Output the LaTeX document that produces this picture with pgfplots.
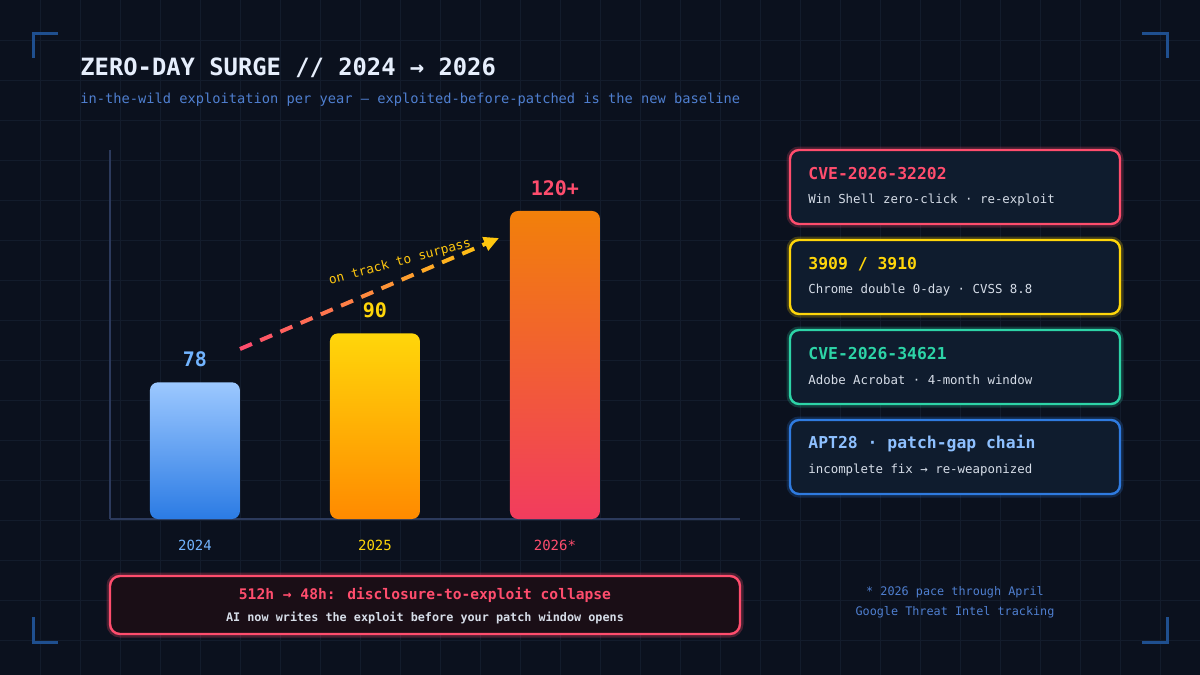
\documentclass[border=0pt]{standalone}
\usepackage{pgfplots}
\pgfplotsset{compat=1.18}
\usepackage{fontspec}
\setmainfont{DejaVu Sans Mono}
\usetikzlibrary{arrows.meta}

\definecolor{bg}{HTML}{0B111E}
\definecolor{gridc}{HTML}{131C2C}
\definecolor{brk}{HTML}{1F4F8F}
\definecolor{titlec}{HTML}{E6EEFC}
\definecolor{subc}{HTML}{4F7FD0}
\definecolor{axisc}{HTML}{2C3A5C}
\definecolor{cardc}{HTML}{0F1C2E}
\definecolor{subtxt}{HTML}{D6DDE8}
\definecolor{c24}{HTML}{72B4FF}
\definecolor{c25}{HTML}{FFD60A}
\definecolor{c26}{HTML}{FF4D6D}
\definecolor{arrR}{HTML}{FF4D6D}
\definecolor{arrY}{HTML}{FFC70F}
\definecolor{teal}{HTML}{2DD4A7}
\definecolor{blueB}{HTML}{2F7BE0}
\definecolor{blueT}{HTML}{8EC0FF}
\definecolor{botfill}{HTML}{1A0E16}
\definecolor{b24top}{HTML}{9CC8FF}
\definecolor{b24bot}{HTML}{2B7BE4}
\definecolor{b25bot}{HTML}{FF8A00}
\definecolor{b26top}{HTML}{F2800A}
\definecolor{b26bot}{HTML}{F23C5E}

% card: top y, border colour, title, subtitle, title colour
\newcommand\card[5]{%
  \draw[#2, line width=1.2pt, rounded corners=4.5pt, fill=cardc,
    preaction={draw=#2, draw opacity=0.22, line width=3.5pt}]
    (790,#1) rectangle (1120,#1+74);
  \node[anchor=west, inner sep=0, text=#5, font=\bfseries\fontsize{8.2}{10}\selectfont] at (808,#1+24) {#3};
  \node[anchor=west, inner sep=0, text=subtxt, font=\fontsize{6.2}{8}\selectfont] at (808,#1+50) {#4};
}

\begin{document}
\begin{tikzpicture}[x=0.5pt,y=-0.5pt]
\useasboundingbox (0,0) rectangle (1200,675);
\fill[bg] (0,0) rectangle (1200,675);
\foreach \g in {40,80,...,1160} \draw[gridc, line width=0.5pt] (\g,0) -- (\g,675);
\foreach \g in {40,80,...,640} \draw[gridc, line width=0.5pt] (0,\g) -- (1200,\g);

% corner brackets
\draw[brk, line width=1.5pt] (33,58) -- (33,33) -- (58,33);
\draw[brk, line width=1.5pt] (1142,33) -- (1167,33) -- (1167,58);
\draw[brk, line width=1.5pt] (33,617) -- (33,642) -- (58,642);
\draw[brk, line width=1.5pt] (1142,642) -- (1167,642) -- (1167,617);

% titles
\node[anchor=west, inner sep=0, text=titlec, font=\bfseries\fontsize{11.9}{14}\selectfont] at (80,68) {ZERO-DAY SURGE // 2024 → 2026};
\node[anchor=west, inner sep=0, text=subc, font=\fontsize{6.85}{8}\selectfont] at (80,100) {in-the-wild exploitation per year — exploited-before-patched is the new baseline};

% trend arrow (drawn under the bars)
\foreach \i in {0,...,11} {
  \pgfmathsetmacro\sa{\i*22/282}
  \pgfmathsetmacro\sb{(\i*22+13)/282}
  \pgfmathsetmacro\xa{240+259*\sa}
  \pgfmathsetmacro\ya{349-111*\sa}
  \pgfmathsetmacro\xb{240+259*\sb}
  \pgfmathsetmacro\yb{349-111*\sb}
  \pgfmathtruncatemacro\p{100*\i/12}
  \colorlet{dc}{arrY!\p!arrR}
  \draw[dc, line width=2pt] (\xa,\ya) -- (\xb,\yb);
}
\draw[arrY, line width=2pt, -{Triangle[length=7.5pt,width=7pt]}]
  ({240+259*0.936},{349-111*0.936}) -- (499,238);
\node[rotate=15, text=arrY, font=\fontsize{6.4}{8}\selectfont] at (400,262) {on track to surpass};

\coordinate (axorigin) at (110,519);
\begin{axis}[
  at={(axorigin)}, anchor=south west,
  scale only axis, width=315pt, height=184.5pt,
  xmin=-0.472, xmax=3.028, ymin=0, ymax=90.44,
  axis lines=left,
  axis line style={draw=axisc, line width=0.8pt, -},
  axis background/.style={fill=none},
  clip=false,
  ytick=\empty, xtick={0,1,2},
  xticklabels={{\textcolor{c24}{2024}},{\textcolor{c25}{2025}},{\textcolor{c26}{2026*}}},
  major tick length=0pt,
  xticklabel style={anchor=center, yshift=-13pt, font=\fontsize{7}{8}\selectfont},
  y filter/.expression={y-44.5},
  ybar, bar width=45pt, bar shift=0pt,
  nodes near coords, point meta=explicit symbolic,
]
\addplot[draw=none, rounded corners=4pt, top color=b24top, bottom color=b24bot,
  every node near coord/.append style={anchor=center, yshift=11.5pt, text=c24, font=\bfseries\fontsize{10}{12}\selectfont}]
  coordinates {(0,78) [78]};
\addplot[draw=none, rounded corners=4pt, top color=c25, bottom color=b25bot,
  every node near coord/.append style={anchor=center, yshift=11.5pt, text=c25, font=\bfseries\fontsize{10}{12}\selectfont}]
  coordinates {(1,90) [90]};
\addplot[draw=none, rounded corners=4pt, top color=b26top, bottom color=b26bot,
  every node near coord/.append style={anchor=center, yshift=11.5pt, text=c26, font=\bfseries\fontsize{10}{12}\selectfont}]
  coordinates {(2,120) [120+]};
\end{axis}

% side cards
\card{150}{c26}{CVE-2026-32202}{Win Shell zero-click · re-exploit}{c26}
\card{240}{c25}{3909 / 3910}{Chrome double 0-day · CVSS 8.8}{c25}
\card{330}{teal}{CVE-2026-34621}{Adobe Acrobat · 4-month window}{teal}
\card{420}{blueB}{APT28 · patch-gap chain}{incomplete fix → re-weaponized}{blueT}

% bottom banner
\draw[c26, line width=1.2pt, rounded corners=5pt, fill=botfill,
  preaction={draw=c26, draw opacity=0.25, line width=3.5pt}]
  (110,576) rectangle (740,634);
\node[inner sep=0, text=c26, font=\bfseries\fontsize{7.3}{9}\selectfont] at (425,595) {512h → 48h: disclosure-to-exploit collapse};
\node[inner sep=0, text=subtxt, font=\bfseries\fontsize{5.9}{7}\selectfont] at (425,618) {AI now writes the exploit before your patch window opens};

% footnote
\node[inner sep=0, text=subc, font=\fontsize{5.9}{7}\selectfont] at (955,592) {* 2026 pace through April};
\node[inner sep=0, text=subc, font=\fontsize{5.9}{7}\selectfont] at (955,612) {Google Threat Intel tracking};
\end{tikzpicture}
\end{document}
